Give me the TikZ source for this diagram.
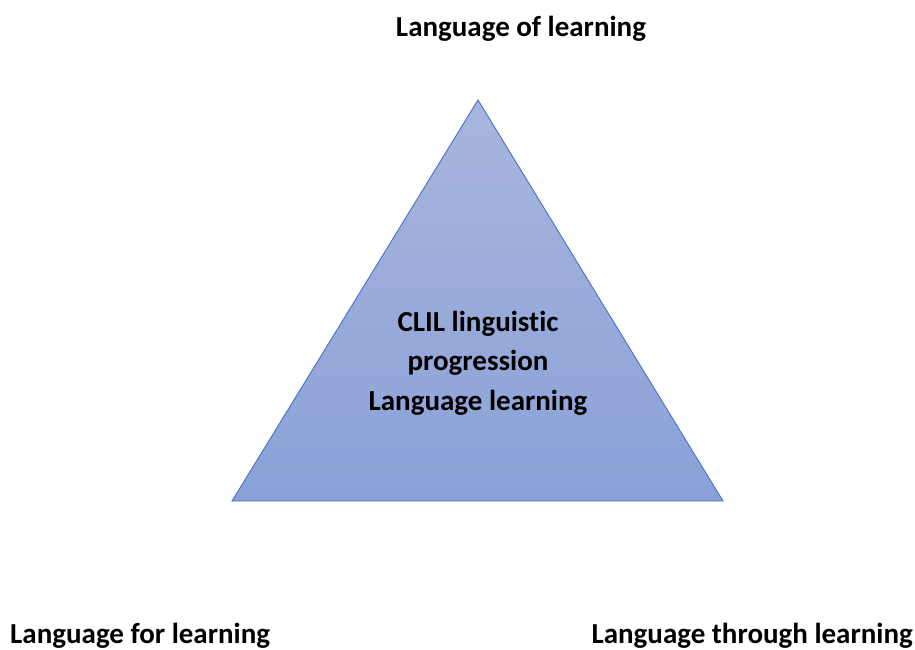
\documentclass[tikz,border=0pt]{standalone}
\usepackage{fontspec}
\setmainfont[Ligatures={NoCommon}]{Carlito}
\begin{document}
\begin{tikzpicture}[x=1pt,y=-1pt,
  lbl/.style={font=\bfseries\fontsize{29}{39.5}\selectfont, text=black, inner sep=0pt},
  tri/.style={draw={rgb,255:red,68;green,114;blue,196}, line width=0.9pt,
    top color={rgb,255:red,169;green,181;blue,221},
    bottom color={rgb,255:red,138;green,161;blue,216}}]
\useasboundingbox (0,0) rectangle (915,650);
\coordinate (apex) at (478,100);
\coordinate (bl) at (232,501);
\coordinate (br) at (723,501);
\path[tri] (apex) -- (br) -- (bl) -- cycle;
\node[lbl, anchor=base] (top) at (521,37) {Language of learning};
\node[lbl, anchor=base west] (left) at (10,643) {Language for learning};
\node[lbl, anchor=base east] (right) at (913,643) {Language through learning};
\node[lbl, align=center, anchor=base] (mid) at (478,410) {CLIL linguistic\\progression\\Language learning};
\end{tikzpicture}
\end{document}
